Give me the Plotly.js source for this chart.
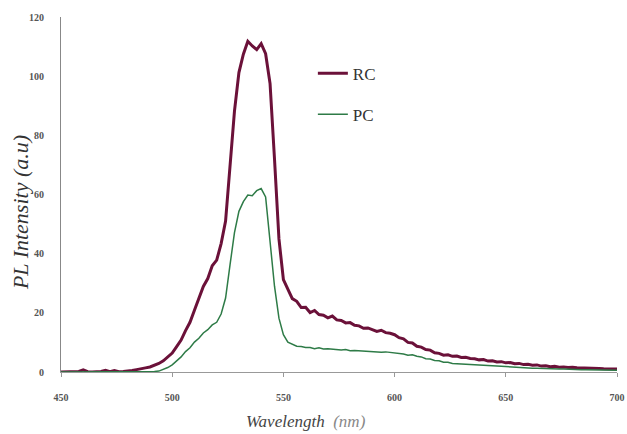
<!DOCTYPE html>
<html>
<head>
<meta charset="utf-8">
<script src="https://cdn.plot.ly/plotly-3.0.1.min.js"></script>
<style>html,body{margin:0;padding:0;background:#fff;}#chart{width:627px;height:434px;}</style>
</head>
<body>
<div id="chart"></div>
<script>
// Wavelength (nm), 2 nm steps from 450 to 700
const wavelength = [450,452,454,456,458,460,462,464,466,468,470,472,474,476,478,480,482,484,486,488,490,492,494,496,498,
500,502,504,506,508,510,512,514,516,518,520,522,524,526,528,530,532,534,536,538,540,542,544,546,548,
550,552,554,556,558,560,562,564,566,568,570,572,574,576,578,580,582,584,586,588,590,592,594,596,598,
600,602,604,606,608,610,612,614,616,618,620,622,624,626,628,630,632,634,636,638,640,642,644,646,648,
650,652,654,656,658,660,662,664,666,668,670,672,674,676,678,680,682,684,686,688,690,692,694,696,698,700];

// RC PL intensity (a.u)
const rcIntensity = [0,0.1,0,0.1,0.2,0.7,0.1,0,0.1,0.2,0.6,0.1,0.5,0.1,0.2,0.3,0.5,0.8,1.0,1.4,1.7,2.3,2.9,3.8,5.1,
6.4,8.6,10.8,14.0,16.8,20.9,24.6,28.9,31.6,35.9,37.8,43.4,51.0,70.5,88.2,101.2,107.4,111.8,110.2,109.0,111.0,107.6,97.5,72.0,45.0,
31.2,27.8,24.8,23.9,21.8,21.9,20.1,20.8,19.4,19.2,18.3,18.9,17.6,17.4,16.6,16.7,15.8,15.6,14.8,14.9,14.2,13.7,14.1,13.3,13.1,
12.6,11.6,11.2,10.0,9.8,8.7,8.4,7.6,7.4,6.5,6.3,5.7,5.8,5.3,5.4,4.9,5.0,4.6,4.5,4.1,4.2,3.7,3.8,3.4,3.5,
3.1,3.2,2.8,2.9,2.5,2.6,2.3,2.4,2.0,2.1,1.8,1.9,1.6,1.7,1.5,1.6,1.4,1.4,1.3,1.3,1.2,1.2,1.1,1.1,1.0,1.0];

// PC PL intensity (a.u)
const pcIntensity = [0,0,0,0,0,0,0,0,0,0,0,0,0,0,0,0,0,0.1,0.1,0.1,0.2,0.2,0.3,0.8,1.5,
2.4,3.7,5.1,6.9,8.2,10.1,11.4,13.2,14.3,15.9,16.8,19.6,25.0,36.2,47.1,54.3,57.6,59.8,59.6,61.3,62.0,59.2,45.0,29.0,18.2,
12.6,10.1,9.3,8.7,8.6,8.3,8.3,7.9,8.2,7.8,7.9,7.7,7.7,7.4,7.6,7.2,7.3,7.2,7.0,7.1,6.9,6.9,6.7,6.8,6.6,
6.6,6.2,6.1,5.7,5.8,5.3,5.1,4.5,4.4,3.9,3.8,3.3,3.3,2.9,2.9,2.7,2.6,2.5,2.4,2.4,2.2,2.2,2.0,1.9,1.9,
1.7,1.7,1.6,1.5,1.5,1.4,1.3,1.3,1.2,1.2,1.1,1.1,1.0,1.0,0.9,0.9,0.9,0.8,0.8,0.8,0.7,0.7,0.7,0.6,0.6,0.6];

const seriesNames = ['RC', 'PC'];
const xTickValues = [450, 500, 550, 600, 650, 700];
const yTickValues = [0, 20, 40, 60, 80, 100, 120];

const traces = [
  {x: wavelength, y: rcIntensity, name: seriesNames[0], legendgroup: 'g1', type: 'scatter', mode: 'lines',
   line: {color: '#6b1139', width: 3}},
  {x: wavelength, y: pcIntensity, name: seriesNames[1], legendgroup: 'g2', type: 'scatter', mode: 'lines',
   line: {color: '#2e7b47', width: 1.5}}
];

const tickFont = {family: 'Liberation Serif, Times New Roman, serif', size: 10, color: '#555', weight: 'bold'};

const layout = {
  width: 627, height: 434,
  margin: {l: 61, r: 10, t: 17, b: 62},
  paper_bgcolor: '#fff', plot_bgcolor: '#fff',
  showlegend: true,
  legend: {x: 0.453, y: 0.891, xanchor: 'left', yanchor: 'top', bgcolor: 'rgba(0,0,0,0)',
           traceorder: 'grouped', tracegroupgap: 16,
           font: {family: 'Liberation Serif, Times New Roman, serif', size: 17, color: '#333'}},
  xaxis: {range: [450, 700], tickvals: xTickValues, ticktext: xTickValues.map(String),
          showline: true, linecolor: '#999', linewidth: 1, ticks: 'outside', ticklen: 4, tickcolor: '#999',
          ticklabelstandoff: 12, showgrid: false, zeroline: false, tickfont: tickFont},
  yaxis: {range: [0, 120], tickvals: yTickValues, ticktext: yTickValues.map(String),
          showline: true, linecolor: '#888', linewidth: 1, ticks: '', ticklabelstandoff: 14,
          showgrid: false, zeroline: false, tickfont: tickFont},
  annotations: [
    {text: 'PL Intensity (a.u)', xref: 'paper', yref: 'paper', x: -0.074, y: 0.45,
     xanchor: 'center', yanchor: 'middle', textangle: -90, showarrow: false,
     font: {family: 'Liberation Serif, Times New Roman, serif', size: 22, color: '#333', style: 'italic'}},
    {text: 'Wavelength  <span style="color:#888">(nm)</span>', xref: 'paper', yref: 'paper', x: 0.44, y: -0.14,
     xanchor: 'center', yanchor: 'middle', showarrow: false,
     font: {family: 'Liberation Serif, Times New Roman, serif', size: 17, color: '#444', style: 'italic'}}
  ]
};

Plotly.newPlot('chart', traces, layout, {displayModeBar: false, staticPlot: true});
</script>
</body>
</html>
